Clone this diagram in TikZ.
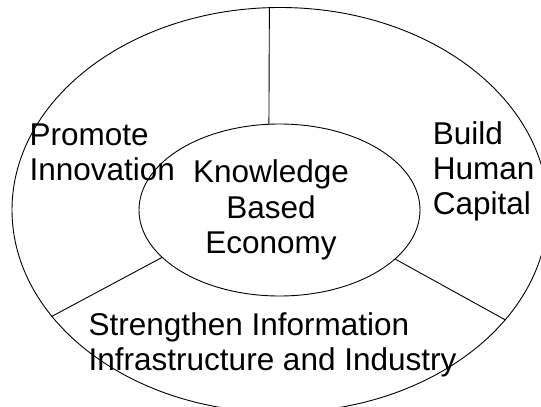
\documentclass[tikz,border=0pt]{standalone}
\usepackage{fontspec}
\setmainfont{Liberation Sans}
\usetikzlibrary{shapes.geometric}
\begin{document}
\begin{tikzpicture}[x=1pt,y=-1pt,
  rim/.style={draw=black,line width=0.9pt,ellipse,inner sep=0pt},
  divider/.style={draw=black,line width=0.9pt},
  caption/.style={inner sep=0pt,font=\fontsize{31.5}{35.3}\selectfont}]
  \useasboundingbox (0,0) rectangle (541,407);
  % outer ring and core
  \node[rim,minimum width=536pt,minimum height=405pt] (ring) at (280,210) {};
  \node[rim,minimum width=281pt,minimum height=172pt] (core) at (279.5,210) {};
  % dividers between the three sectors
  \draw[divider] (ring.93.1) -- (core.97.3);
  \draw[divider] (ring.205.2) -- (core.202.3);
  \draw[divider] (ring.334.8) -- (core.337.9);
  % labels (base anchor sits on the last line)
  \node[caption,align=center,anchor=base] (economy) at (271,253.5) {Knowledge\\Based\\Economy};
  \node[caption,align=left,anchor=base west] (innovation) at (29.3,180.3) {Promote\\Innovation};
  \node[caption,align=left,anchor=base west] (capital) at (432.7,214.6) {Build\\Human\\Capital};
  \node[caption,align=left,anchor=base west] (infrastructure) at (88.5,370.5) {Strengthen Information\\Infrastructure and Industry};
\end{tikzpicture}
\end{document}
